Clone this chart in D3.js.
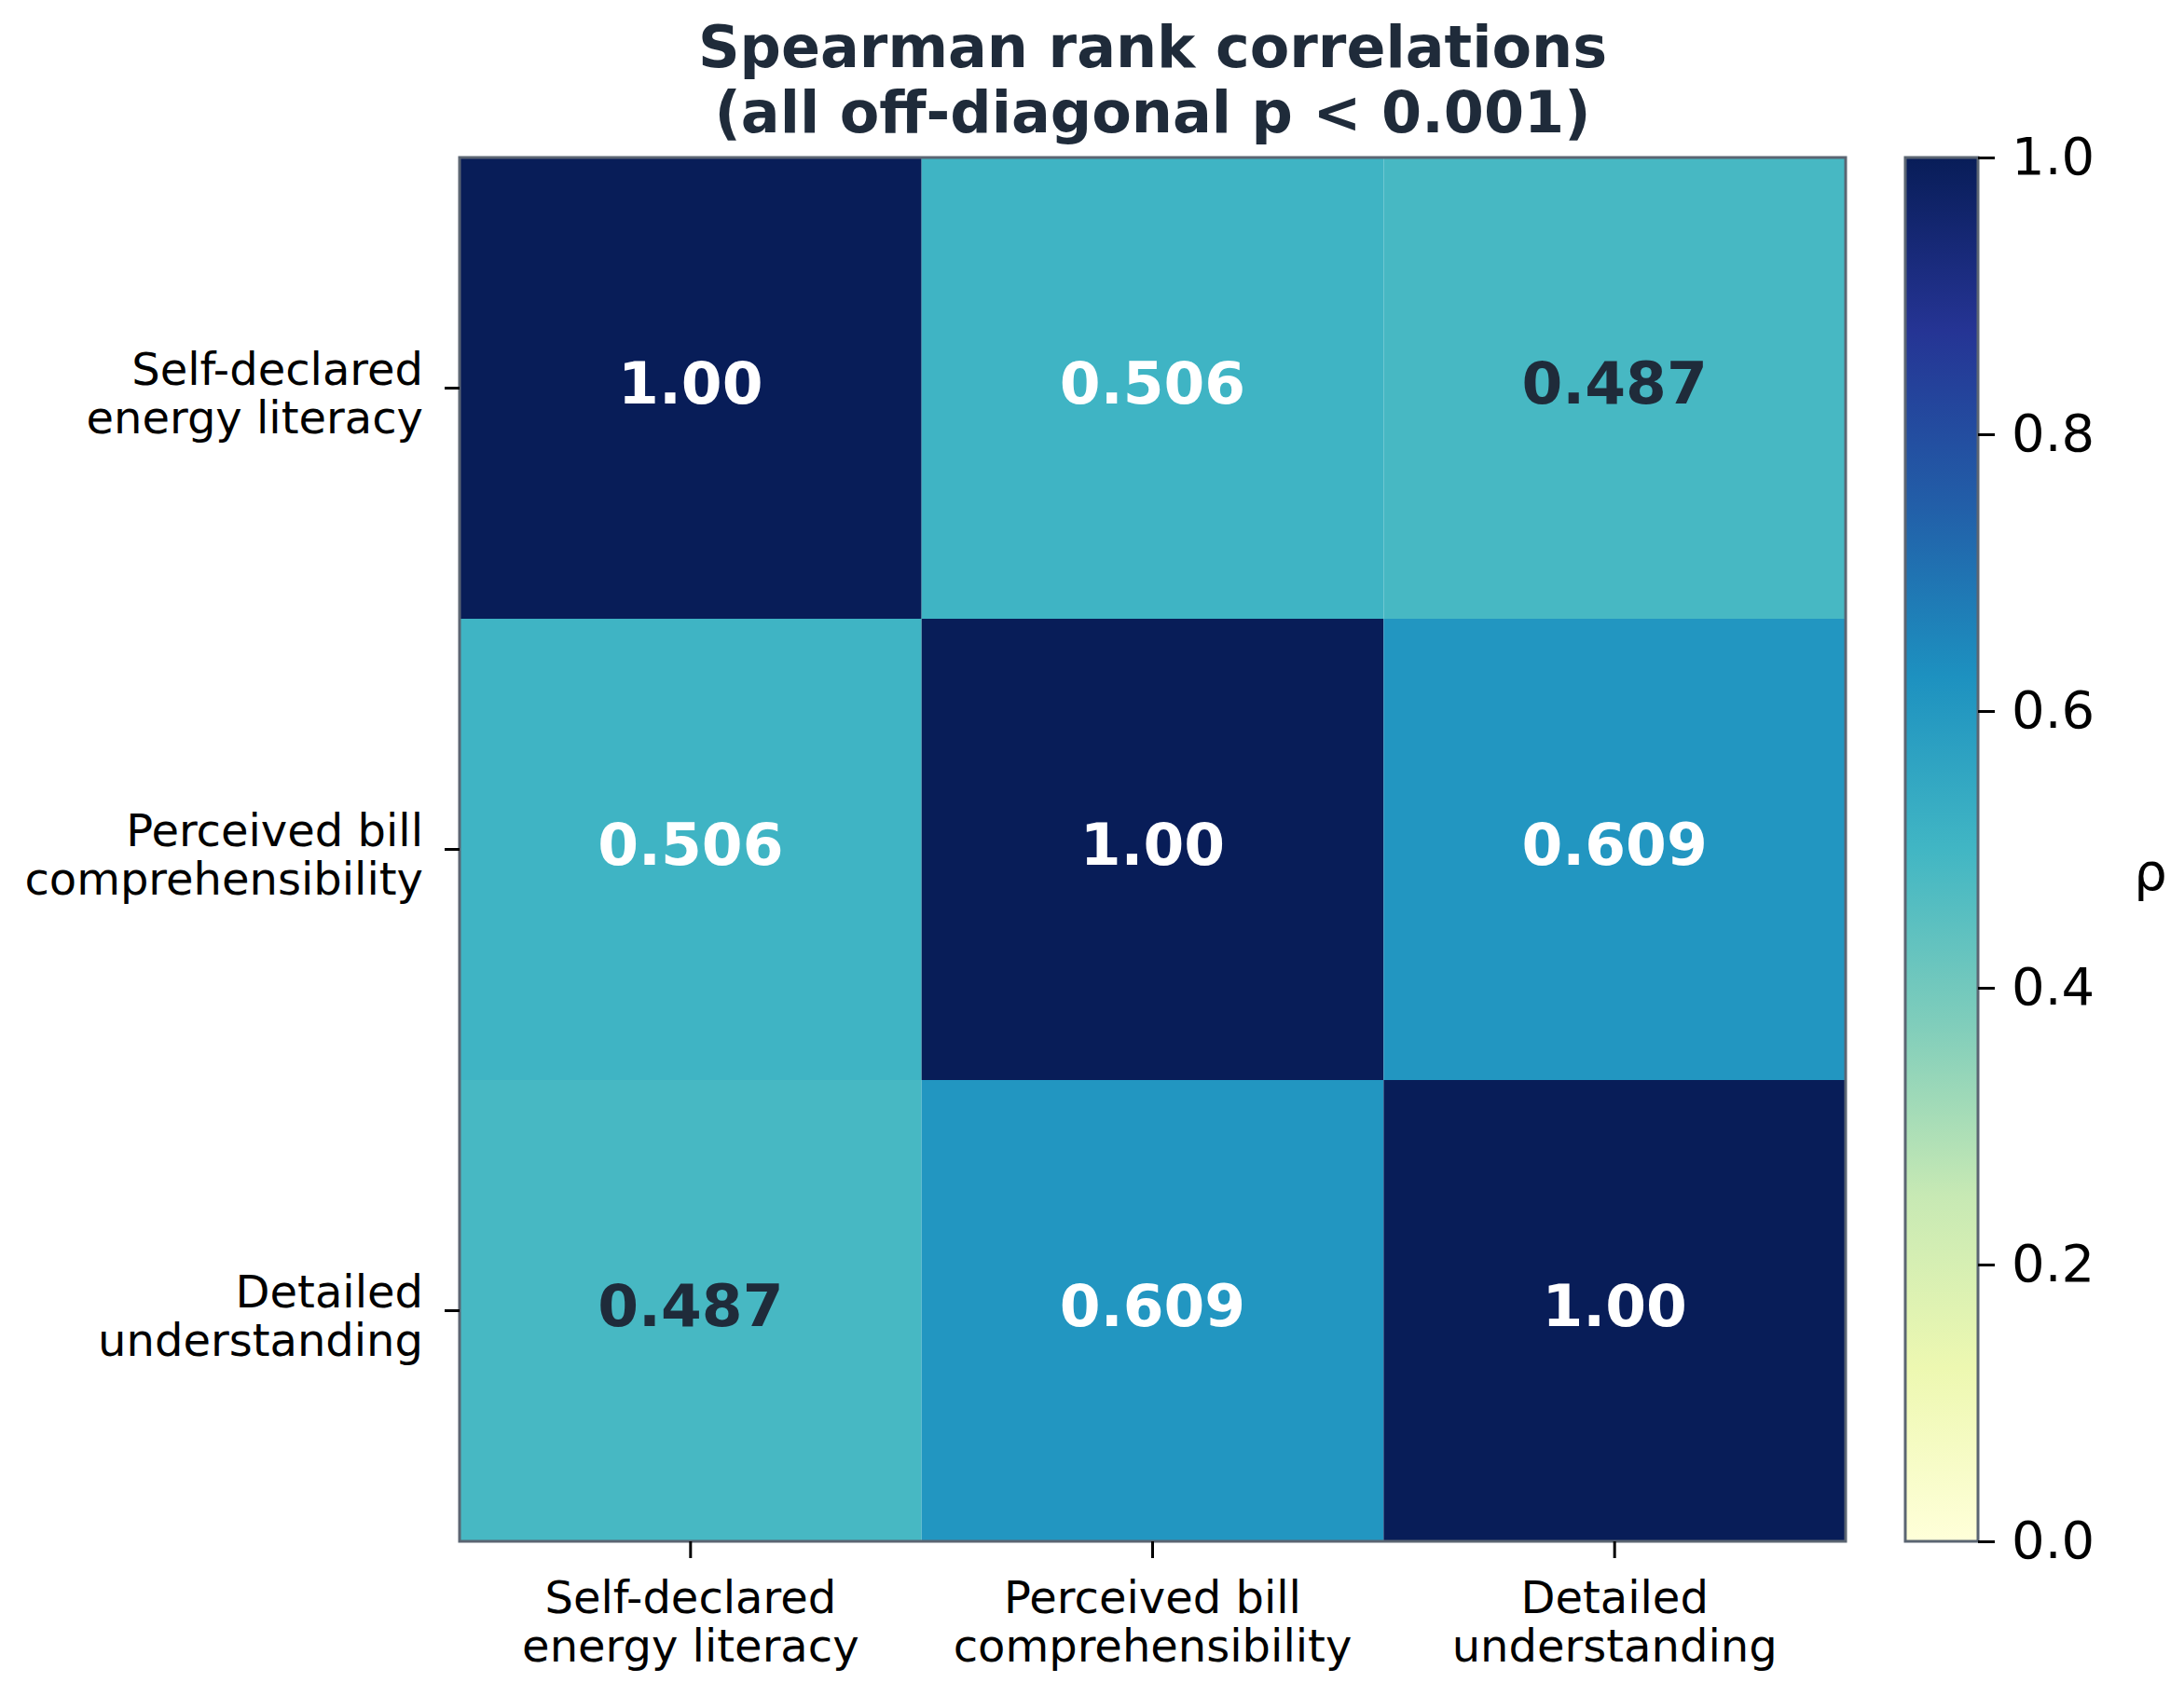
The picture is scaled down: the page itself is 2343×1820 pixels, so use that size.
<!DOCTYPE html>
<html>
<head>
<meta charset="utf-8">
<script src="https://cdn.jsdelivr.net/npm/d3@7"></script>
<style>
  body { margin: 0; background: #fff; }
  svg { display: block; font-family: "DejaVu Sans", sans-serif; }
</style>
</head>
<body>
<svg id="chart" width="2343" height="1820"></svg>
<script>
const svg = d3.select("#chart");

// variables (tick labels split on two lines, like the original)
const variables = ["literacy", "bill", "detailed"];
const labelLines = [
  ["Self-declared", "energy literacy"],
  ["Perceived bill", "comprehensibility"],
  ["Detailed", "understanding"]
];

// Spearman rho, row by row
const rho = [
  [1.00, 0.506, 0.487],
  [0.506, 1.00, 0.609],
  [0.487, 0.609, 1.00]
];

const cbTicks = [0.0, 0.2, 0.4, 0.6, 0.8, 1.0];

// YlGnBu (ColorBrewer 9 class, linear segments as in matplotlib)
const ylgnbu = ["#ffffd9", "#edf8b1", "#c7e9b4", "#7fcdbb", "#41b6c4",
                "#1d91c0", "#225ea8", "#253494", "#081d58"];

const titleLines = ["Spearman rank correlations", "(all off-diagonal p < 0.001)"];

// layout
const plotLeft = 493, plotRight = 1980, plotTop = 169, plotBottom = 1654;
const cbLeft = 2044, cbRight = 2122;
const spine = "#5b6572";
const darkText = "#1f2b3a";

const color = d3.scaleLinear()
  .domain(d3.range(ylgnbu.length).map(i => i / (ylgnbu.length - 1)))
  .range(ylgnbu)
  .interpolate(d3.interpolateRgb);

const x = d3.scaleBand().domain(variables).range([plotLeft, plotRight]);
const y = d3.scaleBand().domain(variables).range([plotTop, plotBottom]);

const cells = [];
rho.forEach((row, i) => row.forEach((v, j) => cells.push({row: i, col: j, v})));

// heatmap cells
svg.append("g").selectAll("rect")
  .data(cells)
  .join("rect")
  .attr("x", d => x(variables[d.col]))
  .attr("y", d => y(variables[d.row]))
  .attr("width", x.bandwidth())
  .attr("height", y.bandwidth())
  .attr("fill", d => color(d.v));

// annotations
svg.append("g").selectAll("text")
  .data(cells)
  .join("text")
  .attr("x", d => x(variables[d.col]) + x.bandwidth() / 2)
  .attr("y", d => y(variables[d.row]) + y.bandwidth() / 2 + 16)
  .attr("text-anchor", "middle")
  .attr("font-size", 63)
  .attr("font-weight", "bold")
  .attr("fill", d => d.v > 0.5 ? "#ffffff" : darkText)
  .text(d => d.row === d.col ? d.v.toFixed(2) : d.v.toFixed(3));

// spine
svg.append("rect")
  .attr("x", plotLeft).attr("y", plotTop)
  .attr("width", plotRight - plotLeft).attr("height", plotBottom - plotTop)
  .attr("fill", "none").attr("stroke", spine).attr("stroke-width", 3);

// y axis
const yAxis = svg.append("g")
  .attr("transform", `translate(${plotLeft},0)`)
  .call(d3.axisLeft(y).tickSize(16).tickPadding(23));
yAxis.select(".domain").remove();
yAxis.selectAll(".tick line").attr("stroke", "#000").attr("stroke-width", 3);
yAxis.selectAll(".tick text")
  .attr("font-size", 48).attr("font-family", "DejaVu Sans").attr("fill", "#000")
  .attr("dy", null)
  .each(function(d) {
    const t = d3.select(this);
    const xx = t.attr("x");
    t.text(null);
    labelLines[variables.indexOf(d)].forEach((s, k) => {
      t.append("tspan").attr("x", xx).attr("y", k === 0 ? -4 : 48).text(s);
    });
  });

// x axis
const xAxis = svg.append("g")
  .attr("transform", `translate(0,${plotBottom})`)
  .call(d3.axisBottom(x).tickSize(18).tickPadding(20));
xAxis.select(".domain").remove();
xAxis.selectAll(".tick line").attr("stroke", "#000").attr("stroke-width", 3);
xAxis.selectAll(".tick text")
  .attr("font-size", 48).attr("font-family", "DejaVu Sans").attr("fill", "#000")
  .attr("dy", null)
  .each(function(d) {
    const t = d3.select(this);
    t.text(null);
    labelLines[variables.indexOf(d)].forEach((s, k) => {
      t.append("tspan").attr("x", 0).attr("y", k === 0 ? 77 : 129).text(s);
    });
  });

// colorbar
const grad = svg.append("defs").append("linearGradient")
  .attr("id", "cbgrad")
  .attr("x1", 0).attr("y1", 1).attr("x2", 0).attr("y2", 0);
grad.selectAll("stop")
  .data(color.domain())
  .join("stop")
  .attr("offset", d => d)
  .attr("stop-color", d => color(d));

const cb = d3.scaleLinear().domain([0, 1]).range([plotBottom, plotTop]);

svg.append("rect")
  .attr("x", cbLeft).attr("y", plotTop)
  .attr("width", cbRight - cbLeft).attr("height", plotBottom - plotTop)
  .attr("fill", "url(#cbgrad)")
  .attr("stroke", spine).attr("stroke-width", 3);

const cbAxis = svg.append("g")
  .attr("transform", `translate(${cbRight},0)`)
  .call(d3.axisRight(cb).tickValues(cbTicks).tickFormat(d3.format(".1f")).tickSize(18).tickPadding(18));
cbAxis.select(".domain").remove();
cbAxis.selectAll(".tick line").attr("stroke", "#000").attr("stroke-width", 3);
cbAxis.selectAll(".tick text")
  .attr("font-size", 56).attr("font-family", "DejaVu Sans").attr("fill", "#000");

svg.append("text")
  .attr("x", 2307).attr("y", 955)
  .attr("text-anchor", "middle")
  .attr("font-size", 56)
  .attr("fill", "#000")
  .text("ρ");

// title
svg.append("g").selectAll("text")
  .data(titleLines)
  .join("text")
  .attr("x", (plotLeft + plotRight) / 2)
  .attr("y", (d, i) => 72 + i * 70)
  .attr("text-anchor", "middle")
  .attr("font-size", 62)
  .attr("font-weight", "bold")
  .attr("fill", darkText)
  .text(d => d);
</script>
</body>
</html>
